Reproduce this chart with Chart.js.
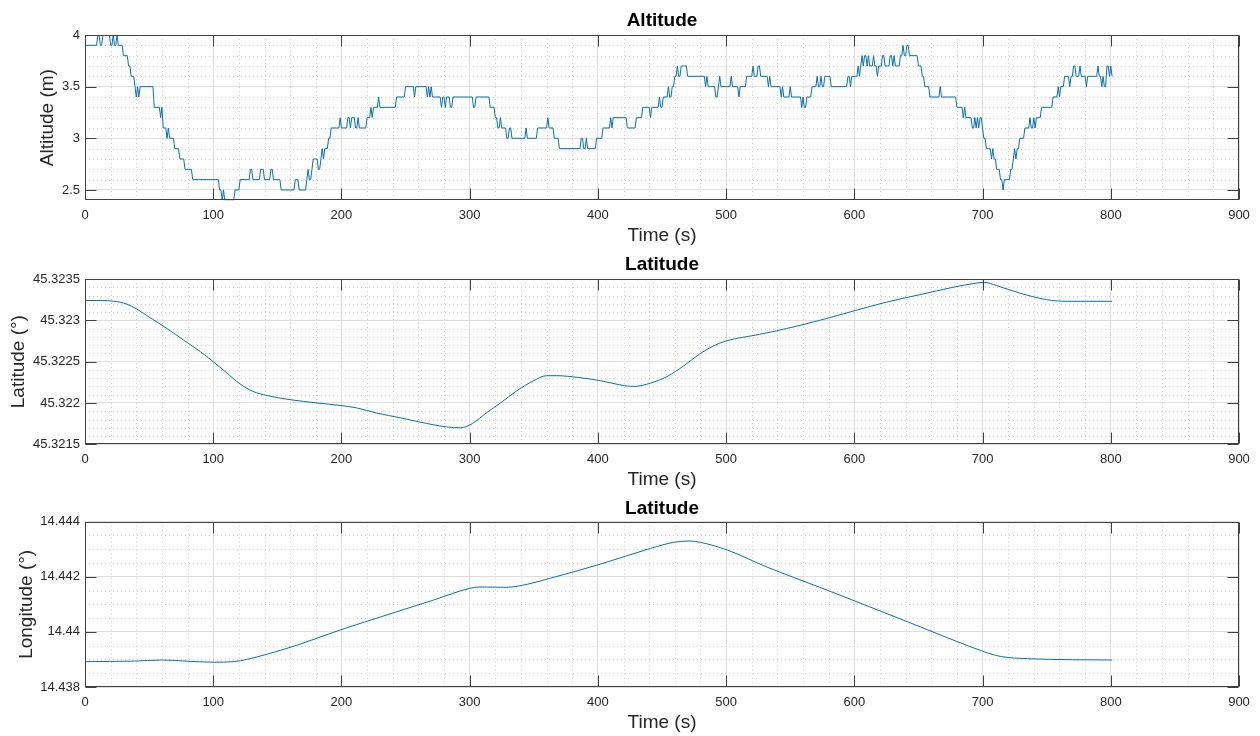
<!DOCTYPE html>
<html><head><meta charset="utf-8">
<script src="https://cdn.jsdelivr.net/npm/chart.js@4.4.0/dist/chart.umd.min.js"></script>
<style>
html,body{margin:0;padding:0;background:#fff;}
body{width:1260px;height:736px;position:relative;overflow:hidden;}
canvas{position:absolute;left:0;}
</style></head><body>
<canvas id="c1" width="1260" height="245" style="top:0px"></canvas>
<canvas id="c2" width="1260" height="245" style="top:245px"></canvas>
<canvas id="c3" width="1260" height="246" style="top:490px"></canvas>
<script>
// ---------- DATA ----------
const timeTicks = [0,100,200,300,400,500,600,700,800,900];
const timeTickLabels = ['0','100','200','300','400','500','600','700','800','900'];

// Altitude (m): run-length encoded 1 Hz samples (start second of each level, level value)
const altRunStart = [0,10,12,14,20,22,23,25,26,30,34,36,39,40,41,42,43,54,59,60,61,64,65,66,70,74,78,84,105,107,108,109,117,121,129,131,137,140,145,147,153,164,167,173,174,175,177,178,182,184,185,186,187,190,192,199,200,205,207,208,211,213,214,220,223,224,225,229,230,243,250,257,258,267,268,269,270,271,278,279,281,282,285,287,303,305,316,320,322,324,325,329,331,333,344,345,353,361,362,366,370,387,389,391,392,399,404,410,411,412,423,430,435,441,442,448,449,451,455,456,458,460,462,463,465,470,484,485,486,492,494,495,496,504,505,510,511,516,521,522,525,527,533,534,535,543,544,545,550,551,559,560,561,563,567,571,572,574,575,577,582,595,597,598,603,604,605,606,607,608,610,611,612,615,616,618,619,622,624,628,630,631,632,636,638,639,641,643,650,653,655,659,667,668,680,685,686,687,692,694,695,696,697,698,700,701,703,707,708,709,711,714,716,717,722,724,725,726,727,729,733,737,738,740,741,742,746,755,759,760,761,764,768,769,771,773,776,777,781,782,790,791,793,794,795,797,799,800,801];
const altRunLevel = [3.9,4.0,3.9,4.0,3.9,4.0,3.9,4.0,3.9,3.8,3.7,3.6,3.5,3.4,3.5,3.4,3.5,3.3,3.2,3.3,3.1,3.0,3.1,3.0,2.9,2.8,2.7,2.6,2.5,2.4,2.5,2.4,2.5,2.6,2.7,2.6,2.7,2.6,2.7,2.6,2.5,2.6,2.5,2.6,2.7,2.6,2.7,2.8,2.7,2.8,2.9,2.8,2.9,3.0,3.1,3.2,3.1,3.2,3.1,3.2,3.1,3.2,3.1,3.2,3.3,3.2,3.3,3.4,3.3,3.4,3.5,3.4,3.5,3.4,3.5,3.4,3.5,3.4,3.3,3.4,3.3,3.4,3.3,3.4,3.3,3.4,3.3,3.2,3.1,3.2,3.1,3.0,3.1,3.0,3.1,3.0,3.1,3.2,3.1,3.0,2.9,3.0,2.9,3.0,2.9,3.0,3.1,3.2,3.1,3.2,3.1,3.2,3.3,3.2,3.3,3.4,3.3,3.4,3.5,3.4,3.5,3.6,3.7,3.6,3.7,3.6,3.5,3.6,3.5,3.4,3.5,3.6,3.5,3.6,3.5,3.4,3.5,3.6,3.7,3.6,3.7,3.6,3.5,3.6,3.5,3.4,3.5,3.4,3.5,3.4,3.3,3.4,3.3,3.4,3.5,3.6,3.5,3.6,3.5,3.6,3.5,3.6,3.5,3.6,3.7,3.6,3.7,3.8,3.7,3.8,3.7,3.8,3.7,3.8,3.7,3.6,3.7,3.8,3.7,3.8,3.7,3.8,3.7,3.8,3.9,3.8,3.9,3.8,3.7,3.6,3.5,3.4,3.5,3.4,3.3,3.2,3.3,3.2,3.1,3.2,3.1,3.2,3.1,3.2,3.1,3.0,2.9,2.8,2.9,2.8,2.7,2.6,2.5,2.6,2.7,2.8,2.9,2.8,2.9,3.0,3.1,3.2,3.1,3.2,3.1,3.2,3.3,3.4,3.5,3.4,3.5,3.6,3.5,3.6,3.7,3.6,3.7,3.6,3.5,3.6,3.7,3.6,3.5,3.6,3.5,3.7,3.6,3.7,3.6];
const altTicks = [2.5,3,3.5,4];
const altTickLabels = ['2.5','3','3.5','4'];

// Latitude (deg)
const latTime = [0,12,23,32,40,51,64,77,90,100,110,121,131,142,160,181,199,212,227,246,261,282,293,302,313,324,337,350,360,368,384,402,417,428,441,454,467,480,490,500,526,547,573,601,625,651,677,695,701,711,729,750,766,781,801];
const latValue = [45.32324,45.32324,45.32323,45.32320,45.32314,45.32303,45.32290,45.32276,45.32262,45.32250,45.32237,45.32223,45.32214,45.32209,45.32204,45.32200,45.32197,45.32194,45.32188,45.32182,45.32177,45.32171,45.32170,45.32175,45.32188,45.32200,45.32215,45.32227,45.32233,45.32233,45.32231,45.32227,45.32222,45.32220,45.32224,45.32232,45.32245,45.32260,45.32269,45.32275,45.32283,45.32290,45.32300,45.32312,45.32322,45.32331,45.32340,45.32345,45.32346,45.32342,45.32333,45.32325,45.32323,45.32323,45.32323];
const latTicks = [45.3215,45.322,45.3225,45.323,45.3235];
const latTickLabels = ['45.3215','45.322','45.3225','45.323','45.3235'];

// Longitude (deg)
const lonTime = [0,38,60,79,100,116,126,142,168,199,233,272,300,308,329,345,363,402,441,459,471,480,501,532,573,600,650,690,700,710,720,740,770,801];
const lonValue = [14.43892,14.43894,14.43898,14.43894,14.43890,14.43892,14.43900,14.43919,14.43956,14.44007,14.44058,14.44116,14.44158,14.44163,14.44162,14.44173,14.44195,14.44246,14.44303,14.44325,14.44330,14.44325,14.44297,14.44235,14.44162,14.44113,14.44021,14.43947,14.43930,14.43915,14.43907,14.43902,14.43899,14.43898];
const lonTicks = [14.438,14.44,14.442,14.444];
const lonTickLabels = ['14.438','14.44','14.442','14.444'];

// ---------- BUILD ----------
const altEnd = 801;
const altPoints = [];
for (let i = 0; i < altRunStart.length; i++) {
  const s = altRunStart[i];
  const e = (i + 1 < altRunStart.length) ? altRunStart[i + 1] - 1 : altEnd;
  altPoints.push({x: s, y: altRunLevel[i]});
  if (e > s) altPoints.push({x: e, y: altRunLevel[i]});
}
const latPoints = latTime.map((t, i) => ({x: t, y: latValue[i]}));
const lonPoints = lonTime.map((t, i) => ({x: t, y: lonValue[i]}));

const FONT = "'Liberation Sans', Arial, Helvetica, sans-serif";
const TXT = '#262626';

const matlabAxes = {
  id: 'matlabAxes',
  beforeDatasetsDraw(chart, args, o) {
    const {ctx, chartArea: a, scales: {x, y}} = chart;
    ctx.save();
    ctx.strokeStyle = '#cdcdcd';
    ctx.lineWidth = 1;
    ctx.setLineDash([1, 3]);
    ctx.beginPath();
    const nx = Math.round((x.max - x.min) / o.xMinor);
    for (let i = 1; i < nx; i++) {
      const v = x.min + i * o.xMinor;
      if (timeTicks.some(t => Math.abs(t - v) < 1e-9)) continue;
      const px = Math.round(x.getPixelForValue(v)) + 0.5;
      ctx.moveTo(px, a.top); ctx.lineTo(px, a.bottom);
    }
    const ny = Math.round((y.max - y.min) / o.yMinor);
    for (let i = 1; i < ny; i++) {
      const v = y.min + i * o.yMinor;
      if (o.yTicks.some(t => Math.abs(t - v) < o.yMinor * 1e-3)) continue;
      const py = Math.round(y.getPixelForValue(v)) + 0.5;
      ctx.moveTo(a.left, py); ctx.lineTo(a.right, py);
    }
    ctx.stroke();
    ctx.restore();
  },
  afterDatasetsDraw(chart, args, o) {
    const {ctx, chartArea: a, scales: {x, y}} = chart;
    ctx.save();
    ctx.strokeStyle = '#404040';
    ctx.lineWidth = 1;
    const L = Math.round(a.left) + 0.5, R = Math.round(a.right) - 0.5;
    const T = Math.round(a.top) + 0.5, B = Math.round(a.bottom) - 0.5;
    ctx.strokeRect(L, T, R - L, B - T);
    ctx.beginPath();
    const tl = 11;
    timeTicks.forEach(v => {
      const px = Math.round(x.getPixelForValue(v)) + 0.5;
      ctx.moveTo(px, B); ctx.lineTo(px, B - tl);
      ctx.moveTo(px, T); ctx.lineTo(px, T + tl);
    });
    o.yTicks.forEach(v => {
      const py = Math.round(y.getPixelForValue(v)) + 0.5;
      ctx.moveTo(L, py); ctx.lineTo(L + tl, py);
      ctx.moveTo(R, py); ctx.lineTo(R - tl, py);
    });
    ctx.stroke();
    ctx.restore();
  }
};

function makeChart(id, cfg) {
  const titleLH = 22.8;
  new Chart(document.getElementById(id), {
    type: 'line',
    data: {
      datasets: [{
        data: cfg.points,
        borderColor: '#0072BD',
        borderWidth: 1,
        pointRadius: 0,
        tension: 0,
        cubicInterpolationMode: cfg.smooth ? 'monotone' : 'default',
        fill: false
      }]
    },
    plugins: [matlabAxes],
    options: {
      responsive: false,
      animation: false,
      events: [],
      layout: {padding: {left: 0, right: 21, top: 0, bottom: 0}},
      plugins: {
        legend: {display: false},
        tooltip: {enabled: false},
        title: {
          display: true,
          fullSize: false,
          text: cfg.title,
          color: '#000',
          font: {family: FONT, size: 19, weight: 'bold', lineHeight: 1.2},
          padding: {top: cfg.titleCenter - titleLH / 2, bottom: cfg.areaTop - cfg.titleCenter - titleLH / 2}
        },
        matlabAxes: {xMinor: 20, yMinor: cfg.yMinor, yTicks: cfg.yTicks}
      },
      scales: {
        x: {
          type: 'linear',
          min: 0, max: 900,
          afterBuildTicks: s => { s.ticks = timeTicks.map(v => ({value: v})); },
          afterFit: s => { s.height = cfg.xAxisHeight; },
          ticks: {
            autoSkip: false, maxRotation: 0, padding: 7.5,
            color: TXT, font: {family: FONT, size: 13, lineHeight: 1.2},
            callback: (v, i) => timeTickLabels[i]
          },
          grid: {color: '#dedede', lineWidth: 1, drawTicks: false},
          border: {display: false},
          title: {
            display: true, text: 'Time (s)', color: TXT,
            font: {family: FONT, size: 19, lineHeight: 1.0},
            padding: {top: 0, bottom: cfg.xAxisHeight - 35.5 - 9.5}
          }
        },
        y: {
          type: 'linear',
          min: cfg.yMin, max: cfg.yMax,
          afterBuildTicks: s => { s.ticks = cfg.yTicks.map(v => ({value: v})); },
          afterFit: s => { s.width = 85; },
          ticks: {
            autoSkip: false, padding: 5,
            color: TXT, font: {family: FONT, size: 13, lineHeight: 1.2},
            callback: (v, i) => cfg.yTickLabels[i]
          },
          grid: {color: '#dedede', lineWidth: 1, drawTicks: false},
          border: {display: false},
          title: {
            display: true, text: cfg.yLabel, color: TXT,
            font: {family: FONT, size: 19, lineHeight: 1.0},
            padding: {top: cfg.yTitleX - 9.5, bottom: 0}
          }
        }
      }
    }
  });
}

makeChart('c1', {
  title: 'Altitude', yLabel: 'Altitude (m)', points: altPoints, smooth: false,
  yMin: 2.4, yMax: 4, yTicks: altTicks, yTickLabels: altTickLabels, yMinor: 0.1,
  titleCenter: 21, areaTop: 35, xAxisHeight: 44.7, yTitleX: 48
});
makeChart('c2', {
  title: 'Latitude', yLabel: 'Latitude (°)', points: latPoints, smooth: true,
  yMin: 45.3215, yMax: 45.3235, yTicks: latTicks, yTickLabels: latTickLabels, yMinor: 0.0001,
  titleCenter: 20, areaTop: 34, xAxisHeight: 45.7, yTitleX: 19
});
makeChart('c3', {
  title: 'Latitude', yLabel: 'Longitude (°)', points: lonPoints, smooth: true,
  yMin: 14.438, yMax: 14.444, yTicks: lonTicks, yTickLabels: lonTickLabels, yMinor: 0.0005,
  titleCenter: 19, areaTop: 31.7, xAxisHeight: 49, yTitleX: 27
});
</script>
</body></html>
